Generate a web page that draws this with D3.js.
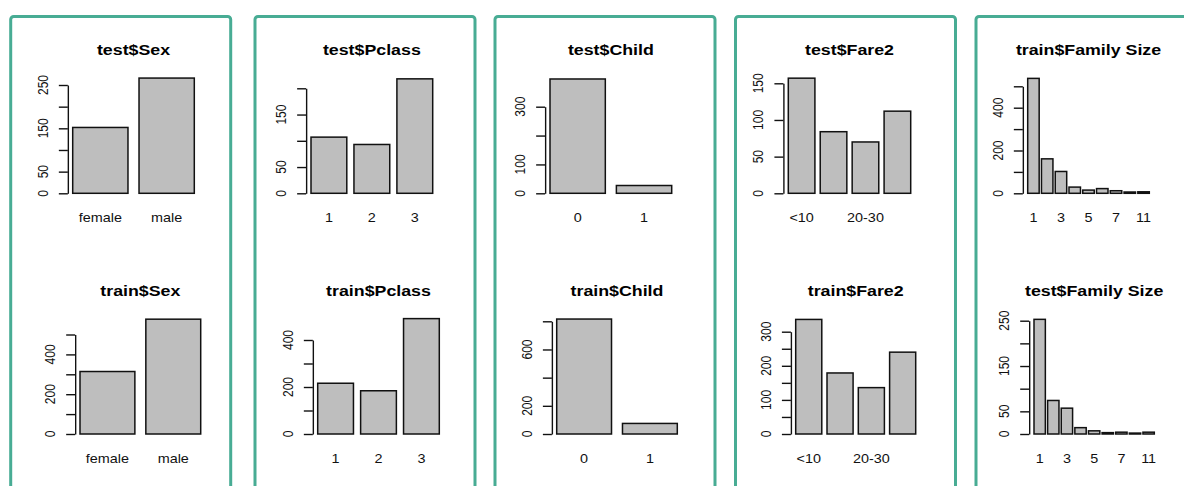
<!DOCTYPE html>
<html><head><meta charset="utf-8">
<script src="https://cdn.jsdelivr.net/npm/d3@7"></script>
<style>body{margin:0;background:#fff}svg{display:block}text{font-family:"Liberation Sans",Arial,sans-serif}</style>
</head><body><svg id="c" width="1184" height="486"></svg>
<script>
// ---------- data ----------
const sexCategories = ["female", "male"];
const testSexCounts = [152, 266];
const trainSexCounts = [314, 577];

const pclassCategories = ["1", "2", "3"];
const testPclassCounts = [107, 93, 218];
const trainPclassCounts = [216, 184, 491];

const childCategories = ["0", "1"];
const testChildCounts = [396, 27];
const trainChildCounts = [816, 75];

const fareCategories = ["<10", "10-20", "20-30", "30+"];
const fareTickLabels = ["<10", "", "20-30", ""];
const testFareCounts = [157, 84, 70, 112];
const trainFareCounts = [336, 179, 136, 240];

const familyCategories = ["1", "2", "3", "4", "5", "6", "7", "8", "11"];
const familyTickLabels = ["1", "", "3", "", "5", "", "7", "", "11"];
const trainFamilyCounts = [537, 161, 102, 29, 15, 22, 12, 6, 7];
const testFamilyCounts = [253, 74, 57, 14, 7, 3, 4, 2, 4];

const ticks250 = [0, 50, 100, 150, 200, 250];
const ticks250Labels = ["0", "50", "", "150", "", "250"];
const ticks500 = [0, 100, 200, 300, 400, 500];
const ticks500Labels = ["0", "", "200", "", "400", ""];
const ticks200 = [0, 50, 100, 150, 200];
const ticks200Labels = ["0", "50", "", "150", ""];
const ticks400 = [0, 100, 200, 300, 400];
const ticks400Labels = ["0", "", "200", "", "400"];
const ticks300 = [0, 100, 200, 300];
const ticks300Labels = ["0", "100", "", "300"];
const ticks800 = [0, 200, 400, 600, 800];
const ticks800Labels = ["0", "200", "", "600", ""];
const ticks150 = [0, 50, 100, 150];
const ticks150Labels = ["0", "50", "100", "150"];
const ticks300b = [0, 50, 100, 150, 200, 250, 300];
const ticks300bLabels = ["0", "", "100", "", "200", "", "300"];

const charts = [
  {title: "test$Sex", cats: sexCategories, xLabels: sexCategories, values: testSexCounts, ticks: ticks250, tickLabels: ticks250Labels},
  {title: "train$Sex", cats: sexCategories, xLabels: sexCategories, values: trainSexCounts, ticks: ticks500, tickLabels: ticks500Labels},
  {title: "test$Pclass", cats: pclassCategories, xLabels: pclassCategories, values: testPclassCounts, ticks: ticks200, tickLabels: ticks200Labels},
  {title: "train$Pclass", cats: pclassCategories, xLabels: pclassCategories, values: trainPclassCounts, ticks: ticks400, tickLabels: ticks400Labels},
  {title: "test$Child", cats: childCategories, xLabels: childCategories, values: testChildCounts, ticks: ticks300, tickLabels: ticks300Labels},
  {title: "train$Child", cats: childCategories, xLabels: childCategories, values: trainChildCounts, ticks: ticks800, tickLabels: ticks800Labels},
  {title: "test$Fare2", cats: fareCategories, xLabels: fareTickLabels, values: testFareCounts, ticks: ticks150, tickLabels: ticks150Labels},
  {title: "train$Fare2", cats: fareCategories, xLabels: fareTickLabels, values: trainFareCounts, ticks: ticks300b, tickLabels: ticks300bLabels},
  {title: "train$Family Size", cats: familyCategories, xLabels: familyTickLabels, values: trainFamilyCounts, ticks: ticks500, tickLabels: ticks500Labels},
  {title: "test$Family Size", cats: familyCategories, xLabels: familyTickLabels, values: testFamilyCounts, ticks: ticks250, tickLabels: ticks250Labels}
];

// ---------- layout (pixels) ----------
const panelLefts = [10.7, 255, 495, 735.5, 976];
const layout = [
  {barLeft: 72.7, barRight: 194.3, zero: 193.3, topTick: 85},
  {barLeft: 80, barRight: 200.7, zero: 434, topTick: 334.5},
  {barLeft: 311, barRight: 432.7, zero: 193.3, topTick: 88.3},
  {barLeft: 317.7, barRight: 439.3, zero: 434, topTick: 340},
  {barLeft: 550, barRight: 671.7, zero: 193.3, topTick: 106.7},
  {barLeft: 556.7, barRight: 677.3, zero: 434, topTick: 321.3},
  {barLeft: 788.3, barRight: 910.7, zero: 193.3, topTick: 83.3},
  {barLeft: 795.7, barRight: 915.7, zero: 434, topTick: 331.7},
  {barLeft: 1027.7, barRight: 1149.3, zero: 193.3, topTick: 86.3},
  {barLeft: 1034, barRight: 1154.3, zero: 434, topTick: 320.7}
];

const svg = d3.select("#c");
const SX_LAB = 1.2, SX_TITLE = 1.27;
const INK = "#111";

panelLefts.forEach(px => {
  svg.append("rect").attr("x", px).attr("y", 16.5).attr("width", 220).attr("height", 520)
    .attr("rx", 3).attr("fill", "none").attr("stroke", "#48ac94").attr("stroke-width", 3);
});

charts.forEach((c, i) => {
  const L = layout[i];
  const n = c.cats.length;
  const span = 1.2 * n - 0.2;
  const x = d3.scaleLinear().domain([0.2, 1.2 * n]).range([L.barLeft, L.barRight]);
  const yTop = c.ticks[c.ticks.length - 1];
  const y = d3.scaleLinear().domain([0, yTop]).range([L.zero, L.topTick]);
  const g = svg.append("g");

  g.selectAll("rect.bar").data(c.values).join("rect").attr("class", "bar")
    .attr("x", (d, j) => x(0.2 + 1.2 * j))
    .attr("width", x(1.2) - x(0.2))
    .attr("y", d => y(d))
    .attr("height", d => y(0) - y(d))
    .attr("fill", "#bebebe").attr("stroke", INK).attr("stroke-width", 1.5);

  const axisX = x(0.2 - 0.04 * span);
  const rightX = x(1.2 * n + 0.04 * span);
  const ax = g.append("g").attr("transform", `translate(${axisX},0)`)
    .call(d3.axisLeft(y).tickValues(c.ticks).tickSize(9).tickSizeOuter(0).tickFormat(""));
  ax.select(".domain").attr("stroke", INK).attr("stroke-width", 1.4);
  ax.selectAll(".tick line").attr("stroke", INK).attr("stroke-width", 1.4);

  c.ticks.forEach((t, k) => {
    if (!c.tickLabels[k]) return;
    g.append("text")
      .attr("transform", `translate(${axisX - 20},${y(t)}) scale(${SX_LAB},1) rotate(-90)`)
      .attr("text-anchor", "middle").attr("font-size", 12).attr("fill", INK)
      .text(c.tickLabels[k]);
  });

  c.xLabels.forEach((s, j) => {
    if (!s) return;
    g.append("text")
      .attr("transform", `translate(${x(0.7 + 1.2 * j)},${L.zero + 29}) scale(${SX_LAB},1)`)
      .attr("text-anchor", "middle").attr("font-size", 12).attr("fill", INK)
      .text(s);
  });

  g.append("text")
    .attr("transform", `translate(${(axisX + rightX) / 2},${L.zero - 138.5}) scale(${SX_TITLE},1)`)
    .attr("text-anchor", "middle").attr("font-size", 14).attr("font-weight", "bold").attr("fill", "#000")
    .text(c.title);
});
</script>
</body></html>
